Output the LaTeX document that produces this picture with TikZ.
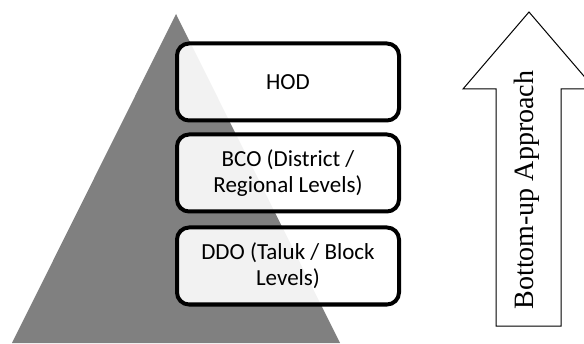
\documentclass[tikz,border=0pt]{standalone}
\usepackage{fontspec}
\setmainfont{Liberation Serif}
\newfontfamily\boxfont{Carlito}
\usetikzlibrary{positioning}
\definecolor{pyrgray}{HTML}{808080}
\tikzset{
	align=center,
	pyramid/.style={
		fill=pyrgray,
	},
	level/.style={
		draw,
		rectangle,
		line width=4pt,
		rounded corners=12pt,
		fill=white,
		fill opacity=0.9,
		text opacity=1,
		minimum width=222pt,
		minimum height=77pt,
		inner sep=0pt,
		font=\boxfont\fontsize{23}{26}\selectfont,
	},
	approach/.style={
		draw,
		line width=1pt,
		fill=white,
	},
}

\begin{document}
\begin{tikzpicture}[x=1pt,y=1pt]
		\useasboundingbox (0,0) rectangle (584,343);
		\clip (0,0) rectangle (584,343);

		% pyramid behind the levels
		\coordinate (base-l) at (12,0);
		\coordinate (apex) at (176,329);
		\coordinate (base-r) at (340,0);
		\fill[pyramid] (base-l) -- (apex) -- (base-r) -- cycle;

		\node[level] 				(hod) at (288,261) {HOD};
		\node[level] 				(bco) at (288,170) {BCO (District /\\Regional Levels)};
		\node[level] 				(ddo) at (288,77) {DDO (Taluk / Block\\Levels)};

		% bottom-up arrow
		\draw[approach] (496,17) -- (496,254) -- (463,254) -- (529,331)
			-- (595,254) -- (561,254) -- (561,17) -- cycle;
		\node[rotate=90, font=\fontsize{28}{32}\selectfont] (label) at (527,153) {Bottom-up Approach};

	\end{tikzpicture}
\end{document}
